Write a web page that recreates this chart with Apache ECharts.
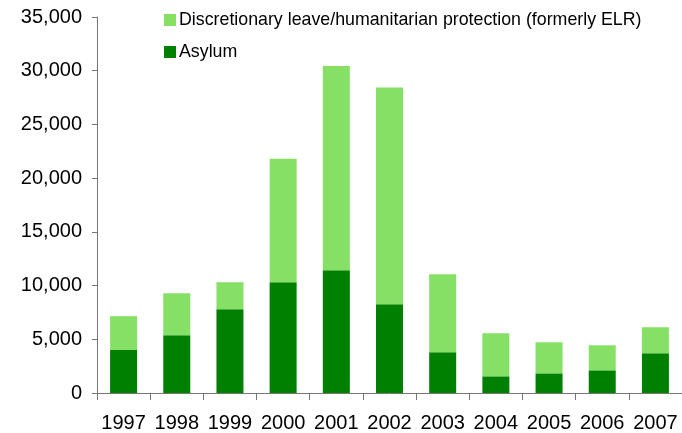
<!DOCTYPE html>
<html><head><meta charset="utf-8">
<script src="https://cdn.jsdelivr.net/npm/echarts@6/dist/echarts.min.js"></script>
<style>html,body{margin:0;padding:0;background:#fff}#c{width:682px;height:433px}</style>
</head><body><div id="c"></div>
<script>
var years = ['1997','1998','1999','2000','2001','2002','2003','2004','2005','2006','2007'];
var asylum = [4000, 5370, 7800, 10310, 11430, 8260, 3790, 1550, 1830, 2110, 3700];
var discretionary = [3150, 3920, 2510, 11490, 19000, 20170, 7270, 4010, 2890, 2330, 2420];
var chart = echarts.init(document.getElementById('c'), null, {renderer:'canvas'});
var font = 'Liberation Sans, Arial, sans-serif';
chart.setOption({
  animation:false,
  backgroundColor:'#fff',
  grid:{left:97, right:-6, top:17, bottom:40},
  legend:{
    orient:'vertical', left:164, top:11, padding:0, itemWidth:12, itemHeight:12, itemGap:14,
    icon:'rect',
    textStyle:{fontFamily:font, fontSize:17.8, color:'#000', padding:[0,0,0,-2]},
    data:['Discretionary leave/humanitarian protection (formerly ELR)','Asylum']
  },
  xAxis:{
    type:'category', data:years,
    axisLine:{lineStyle:{color:'#777', width:1}},
    axisTick:{show:true, length:7, lineStyle:{color:'#777'}},
    axisLabel:{fontFamily:font, fontSize:20, color:'#000', margin:20, interval:0}
  },
  yAxis:{
    type:'value', min:0, max:35000, interval:5000,
    axisLine:{show:true, lineStyle:{color:'#777'}},
    axisTick:{show:true, length:5, lineStyle:{color:'#777'}},
    splitLine:{show:false},
    axisLabel:{fontFamily:font, fontSize:20, color:'#000', margin:15,
      formatter:function(v){return v.toLocaleString('en-US');}}
  },
  series:[
    {name:'Asylum', type:'bar', stack:'t', data:asylum, barWidth:27,
     itemStyle:{color:'#008000'}},
    {name:'Discretionary leave/humanitarian protection (formerly ELR)', type:'bar', stack:'t',
     data:discretionary, barWidth:27, itemStyle:{color:'#86e066'}}
  ]
});
</script></body></html>
